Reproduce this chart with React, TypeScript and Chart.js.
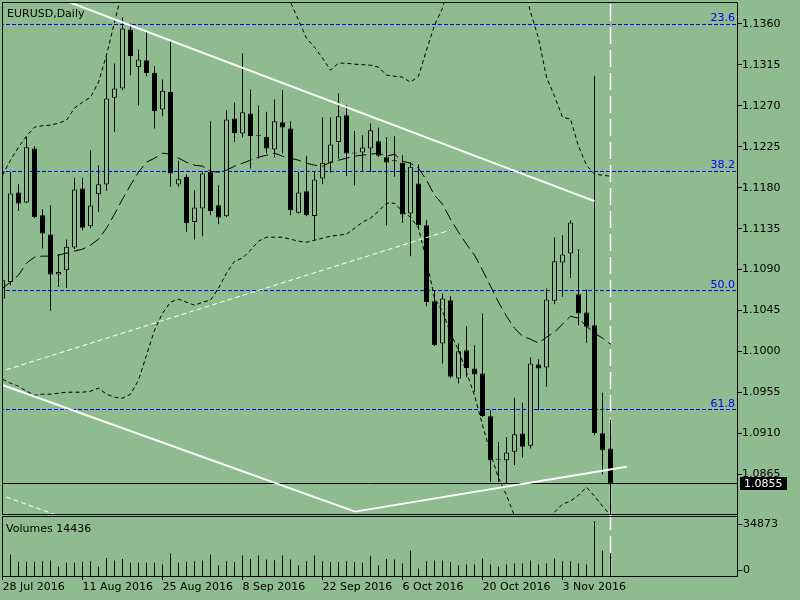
import React, { useEffect, useRef } from "react";
import { Chart, registerables } from "chart.js";

Chart.register(...registerables);

// ---------- data ----------
const symbolTitle = "EURUSD,Daily";

const dates = [
  "28 Jul 2016", "29 Jul 2016",
  "1 Aug 2016", "2 Aug 2016", "3 Aug 2016", "4 Aug 2016", "5 Aug 2016",
  "8 Aug 2016", "9 Aug 2016", "10 Aug 2016", "11 Aug 2016", "12 Aug 2016",
  "15 Aug 2016", "16 Aug 2016", "17 Aug 2016", "18 Aug 2016", "19 Aug 2016",
  "22 Aug 2016", "23 Aug 2016", "24 Aug 2016", "25 Aug 2016", "26 Aug 2016",
  "29 Aug 2016", "30 Aug 2016", "31 Aug 2016", "1 Sep 2016", "2 Sep 2016",
  "5 Sep 2016", "6 Sep 2016", "7 Sep 2016", "8 Sep 2016", "9 Sep 2016",
  "12 Sep 2016", "13 Sep 2016", "14 Sep 2016", "15 Sep 2016", "16 Sep 2016",
  "19 Sep 2016", "20 Sep 2016", "21 Sep 2016", "22 Sep 2016", "23 Sep 2016",
  "26 Sep 2016", "27 Sep 2016", "28 Sep 2016", "29 Sep 2016", "30 Sep 2016",
  "3 Oct 2016", "4 Oct 2016", "5 Oct 2016", "6 Oct 2016", "7 Oct 2016",
  "10 Oct 2016", "11 Oct 2016", "12 Oct 2016", "13 Oct 2016", "14 Oct 2016",
  "17 Oct 2016", "18 Oct 2016", "19 Oct 2016", "20 Oct 2016", "21 Oct 2016",
  "24 Oct 2016", "25 Oct 2016", "26 Oct 2016", "27 Oct 2016", "28 Oct 2016",
  "31 Oct 2016", "1 Nov 2016", "2 Nov 2016", "3 Nov 2016", "4 Nov 2016",
  "7 Nov 2016", "8 Nov 2016", "9 Nov 2016", "10 Nov 2016", "11 Nov 2016",
];

const opens = [
  1.10583, 1.10765, 1.11747, 1.11638, 1.12231, 1.11498, 1.11286, 1.10847, 1.10894, 1.11143,
  1.11791, 1.11377, 1.11729, 1.11836, 1.12787, 1.1289, 1.13538, 1.13127, 1.13201, 1.13061,
  1.12659, 1.12853, 1.11836, 1.11919, 1.11424, 1.11572, 1.11974, 1.11608, 1.11487, 1.1256,
  1.12396, 1.12615, 1.1238, 1.12358, 1.1222, 1.1252, 1.12451, 1.11525, 1.11762, 1.1149,
  1.11901, 1.12073, 1.12303, 1.12597, 1.12187, 1.12187, 1.12231, 1.12311, 1.12135, 1.12102,
  1.12073, 1.11517, 1.11846, 1.11388, 1.10553, 1.10089, 1.10564, 1.09704, 1.10015, 1.09814,
  1.09759, 1.0929, 1.08821, 1.08806, 1.08898, 1.091, 1.08964, 1.09858, 1.09825, 1.10557,
  1.10978, 1.11077, 1.1063, 1.10429, 1.1029, 1.09103, 1.08935,
];
const highs = [
  1.10839, 1.11974, 1.11839, 1.12358, 1.12256, 1.11564, 1.11608, 1.1107, 1.11231, 1.11908,
  1.11908, 1.12212, 1.12047, 1.13237, 1.13165, 1.1367, 1.13604, 1.13318, 1.13512, 1.13135,
  1.12989, 1.13421, 1.12095, 1.11948, 1.11773, 1.11974, 1.12531, 1.11828, 1.12652, 1.12736,
  1.13274, 1.12879, 1.12703, 1.12633, 1.12769, 1.12871, 1.12531, 1.11974, 1.12146, 1.11974,
  1.12571, 1.12571, 1.12835, 1.12707, 1.12424, 1.12377, 1.12505, 1.12462, 1.12358, 1.12366,
  1.12157, 1.1208, 1.12055, 1.11443, 1.10674, 1.10638, 1.10608, 1.10089, 1.10279, 1.1007,
  1.10418, 1.09356, 1.09007, 1.09062, 1.09491, 1.09436, 1.09935, 1.09916, 1.10693, 1.11253,
  1.11278, 1.11443, 1.11125, 1.10682, 1.13025, 1.09546, 1.09254,
];
const lows = [
  1.10542, 1.10729, 1.11545, 1.1163, 1.11465, 1.11132, 1.10447, 1.1071, 1.10699, 1.11125,
  1.11333, 1.11355, 1.11534, 1.11765, 1.12413, 1.12871, 1.13036, 1.12707, 1.13025, 1.1245,
  1.12586, 1.11809, 1.11809, 1.11315, 1.11231, 1.11267, 1.11498, 1.11399, 1.11479, 1.12303,
  1.12352, 1.12011, 1.12121, 1.12176, 1.12132, 1.12176, 1.11498, 1.11517, 1.11487, 1.11223,
  1.11839, 1.11963, 1.12121, 1.11927, 1.11828, 1.11985, 1.11974, 1.12139, 1.11388, 1.11919,
  1.11413, 1.11048, 1.11341, 1.10498, 1.10062, 1.09869, 1.09707, 1.09649, 1.09715, 1.09557,
  1.09282, 1.08568, 1.08568, 1.0855, 1.08752, 1.08836, 1.08935, 1.09356, 1.09612, 1.1052,
  1.10601, 1.10809, 1.1029, 1.10097, 1.09081, 1.08653, 1.08191,
];
const closes = [
  1.10784, 1.11736, 1.11627, 1.12245, 1.11479, 1.11297, 1.10847, 1.10875, 1.1115, 1.1178,
  1.11359, 1.11605, 1.11839, 1.1278, 1.1289, 1.13549, 1.13248, 1.13209, 1.13061, 1.12641,
  1.12864, 1.11956, 1.11894, 1.11413, 1.11583, 1.11956, 1.11545, 1.11473, 1.12549, 1.12402,
  1.1263, 1.12369, 1.1237, 1.12231, 1.12531, 1.12462, 1.11553, 1.11747, 1.11498, 1.1189,
  1.12073, 1.12275, 1.12586, 1.12176, 1.12176, 1.12242, 1.12432, 1.1215, 1.12077, 1.12091,
  1.11506, 1.12029, 1.11388, 1.10545, 1.1007, 1.10583, 1.09722, 1.10004, 1.0982, 1.09748,
  1.09293, 1.08806, 1.0881, 1.08891, 1.09092, 1.08953, 1.09869, 1.09814, 1.10572, 1.10993,
  1.11066, 1.11418, 1.10418, 1.10271, 1.09106, 1.08916, 1.0855,
];
const volumes = [
  5200, 13560, 8970, 8970, 8970, 9390, 9800, 5840, 8350, 8350,
  8970, 9390, 5840, 11480, 9800, 10850, 8350, 8350, 8350, 8350,
  7300, 14190, 8350, 8970, 9390, 9800, 13560, 6680, 9390, 8770,
  12940, 10850, 12940, 10430, 10020, 12940, 10430, 6680, 9390, 12940,
  9390, 8770, 8770, 9390, 8770, 8350, 12520, 6680, 10850, 10430,
  7930, 16070, 4800, 9390, 9800, 9800, 8770, 6680, 7300, 7300,
  11060, 7300, 5840, 7300, 7930, 7930, 9800, 7300, 7930, 11060,
  9390, 9390, 7930, 7300, 34873, 16070, 14436,
];

// Bollinger Bands (20, 2) as drawn
const bbUpper = [
  1.11937, 1.12102, 1.12245, 1.12366, 1.12465, 1.12481, 1.12487, 1.12509, 1.12542, 1.12674,
  1.12739, 1.12794, 1.12959, 1.13256, 1.13618, 1.1397, 1.14135, 1.14245, 1.14299, 1.14321,
  1.14343, 1.14354, 1.14354, 1.14354, 1.14343, 1.14321, 1.14299, 1.14277, 1.14255, 1.14234,
  1.1419, 1.14146, 1.14102, 1.14047, 1.13992, 1.13926, 1.13838, 1.1364, 1.13443, 1.13344,
  1.13223, 1.13091, 1.13168, 1.13168, 1.13157, 1.13151, 1.13146, 1.13124, 1.13036, 1.13025,
  1.13014, 1.12959, 1.13025, 1.13311, 1.13585, 1.13772, 1.1408, 1.14299, 1.14464, 1.14574,
  1.14629, 1.14629, 1.14574, 1.14464, 1.14299, 1.1408, 1.13728, 1.13443, 1.13014, 1.12805,
  1.12575, 1.12553, 1.12256, 1.12047, 1.11948, 1.11937, 1.11926,
];
const bbMiddle = [
  1.10696, 1.10762, 1.10839, 1.10971, 1.11037, 1.11048, 1.11048, 1.11059, 1.11081, 1.11103,
  1.11125, 1.11168, 1.11234, 1.11355, 1.11509, 1.11674, 1.11828, 1.1197, 1.1208, 1.12124,
  1.12179, 1.12168, 1.12124, 1.1208, 1.12047, 1.12036, 1.11981, 1.1197, 1.11992, 1.12036,
  1.12069, 1.12102, 1.12135, 1.12157, 1.12179, 1.12146, 1.12124, 1.12102, 1.12069, 1.12047,
  1.12036, 1.1208, 1.12102, 1.12124, 1.12146, 1.12157, 1.12168, 1.12179, 1.12146, 1.12168,
  1.12091, 1.12069, 1.12014, 1.11883, 1.11718, 1.11619, 1.11454, 1.11311, 1.11179, 1.11059,
  1.10894, 1.10718, 1.10542, 1.10388, 1.10256, 1.10169, 1.10136, 1.10092, 1.10158, 1.10213,
  1.103, 1.10388, 1.10366, 1.10278, 1.10202, 1.10147, 1.10081,
];
const bbLower = [
  1.09696, 1.09652, 1.09619, 1.09564, 1.0952, 1.09531, 1.09531, 1.09542, 1.09553, 1.09553,
  1.09553, 1.09564, 1.09597, 1.09531, 1.09498, 1.09487, 1.09531, 1.09685, 1.0996, 1.10235,
  1.10421, 1.10542, 1.10575, 1.10542, 1.10509, 1.10542, 1.10564, 1.10696, 1.10861, 1.10992,
  1.11026, 1.11114, 1.11212, 1.11256, 1.11256, 1.11256, 1.11234, 1.11212, 1.11201, 1.11223,
  1.11245, 1.11267, 1.11278, 1.11289, 1.11355, 1.11421, 1.11465, 1.11542, 1.1163, 1.1163,
  1.11542, 1.11476, 1.11355, 1.11004, 1.10586, 1.10443, 1.10202, 1.10015, 1.09773, 1.0952,
  1.09191, 1.08883, 1.08609, 1.08422, 1.08191, 1.08038, 1.0795, 1.07983, 1.08103, 1.08235,
  1.08323, 1.08356, 1.08422, 1.0851, 1.08411, 1.08301, 1.08202,
];

// drawn objects: [bar index, price]
const trendUpper = [[5, 1.13949], [74, 1.11652]];
const trendLowerA = [[-0.5, 1.09647], [44.06, 1.08241]];
const trendLowerB = [[44.06, 1.08241], [78.03, 1.08733]];
const trendDashA = [[-0.5, 1.09773], [55.94, 1.11333]];
const trendDashB = [[-0.5, 1.08431], [9.69, 1.08111]];

const fibLabels = ["23.6", "38.2", "50.0", "61.8"];
const fibPrices = [1.13593, 1.11978, 1.1067, 1.09363];

const priceTicks = [1.0865, 1.091, 1.0955, 1.1, 1.1045, 1.109, 1.1135, 1.118, 1.1225, 1.127, 1.1315, 1.136];
const xTickLabels = ["28 Jul 2016", "11 Aug 2016", "25 Aug 2016", "8 Sep 2016", "22 Sep 2016", "6 Oct 2016", "20 Oct 2016", "3 Nov 2016"];

// ---------- view settings ----------
const BG = "#8fbc8f";
const FONT_FAMILY = '"DejaVu Sans"';
const FONT = '11px "DejaVu Sans"';
const P_MAX = 1.13829;
const P_MIN = 1.08204;
const VOL_MAX = 38678;
const X_MIN = -0.0625;
const X_MAX = 91.8125;

const last = dates.length - 1;
const bidPrice = closes[last];
const volTop = Math.max(...volumes);
const idx = dates.map((_, i) => i);
const xTickIdx = xTickLabels.map((l) => dates.indexOf(l));

const toPts = (arr: number[][]) => arr.map(([x, y]) => ({ x, y }));

function lineDs(data: any[], color: string, width: number, dash: number[], order: number, axis = "y") {
  return {
    type: "line",
    data,
    borderColor: color,
    borderWidth: width,
    borderDash: dash,
    borderCapStyle: "butt",
    pointRadius: 0,
    pointHoverRadius: 0,
    pointHitRadius: 0,
    fill: false,
    tension: 0,
    order,
    xAxisID: "x",
    yAxisID: axis,
  };
}

const mt4Plugin = {
  id: "mt4look",
  beforeDraw(chart: any) {
    const { ctx, width, height } = chart;
    ctx.save();
    ctx.fillStyle = BG;
    ctx.fillRect(0, 0, width, height);
    ctx.restore();
  },
  afterDraw(chart: any) {
    const { ctx, chartArea } = chart;
    const ys = chart.scales.y;
    const vs = chart.scales.yv;
    const L = Math.round(chartArea.left) + 0.5;
    const R = Math.round(chartArea.right) + 0.5;
    const top = Math.round(ys.top) - 0.5;
    const pBot = Math.round(ys.bottom) - 0.5;
    const vTop = Math.round(vs.top) + 1.5;
    const vBot = Math.round(vs.bottom) + 0.5;
    ctx.save();
    ctx.setLineDash([]);
    ctx.strokeStyle = "#000";
    ctx.lineWidth = 1;
    ctx.beginPath();
    ctx.moveTo(L, top); ctx.lineTo(R, top);
    ctx.moveTo(L, top); ctx.lineTo(L, pBot);
    ctx.moveTo(L, pBot); ctx.lineTo(R, pBot);
    ctx.moveTo(L, vTop); ctx.lineTo(R, vTop);
    ctx.moveTo(L, vTop); ctx.lineTo(L, vBot);
    // volume axis tick marks
    const v1 = vs.getPixelForValue(volTop) + 2.5;
    const v0 = vs.getPixelForValue(0) - 6.5;
    ctx.moveTo(R, Math.round(v1) + 0.5); ctx.lineTo(R + 5, Math.round(v1) + 0.5);
    ctx.moveTo(R, Math.round(v0) + 0.5); ctx.lineTo(R + 5, Math.round(v0) + 0.5);
    ctx.stroke();

    ctx.font = FONT;
    ctx.fillStyle = "#000";
    ctx.textAlign = "left";
    ctx.textBaseline = "alphabetic";
    ctx.fillText(symbolTitle, 7, ys.top + 13.5);
    ctx.fillText("Volumes " + volumes[last], 6, vs.top + 17);

    ctx.textBaseline = "middle";
    ctx.fillText(String(volTop), R + 5.5, v1 + 1);
    ctx.fillText("0", R + 5.5, v0 + 1);

    ctx.fillStyle = "#0000ff";
    ctx.textAlign = "right";
    ctx.textBaseline = "alphabetic";
    fibPrices.forEach((p, k) => {
      ctx.fillText(fibLabels[k], R - 2.5, ys.getPixelForValue(p) - 3);
    });

    const py = ys.getPixelForValue(bidPrice);
    ctx.fillStyle = "#000";
    ctx.fillRect(R + 2.5, Math.round(py) - 7, 47, 13);
    ctx.fillStyle = "#fff";
    ctx.textAlign = "left";
    ctx.textBaseline = "middle";
    ctx.fillText(bidPrice.toFixed(4), R + 6.5, py + 0.5);
    ctx.restore();
  },
};

export default function App() {
  const ref = useRef<HTMLCanvasElement | null>(null);

  useEffect(() => {
    const canvas = ref.current;
    if (!canvas) return;
    Chart.defaults.font.family = FONT_FAMILY;
    Chart.defaults.font.size = 11;
    Chart.defaults.color = "#000";

    const datasets: any[] = [
      // vertical line at last bar (behind candles)
      lineDs(toPts([[last, P_MAX + 0.01], [last, P_MIN - 0.01]]), "#ffffff", 1.5, [17, 6], 40),
      lineDs(toPts([[last, 0], [last, VOL_MAX * 2]]), "#ffffff", 1.5, [17, 6], 40, "yv"),
      // fibonacci levels
      ...fibPrices.map((p) => lineDs(toPts([[X_MIN - 1, p], [X_MAX + 1, p]]), "#0000ff", 1, [4, 2], 35)),
      // bid line
      lineDs(toPts([[X_MIN - 1, bidPrice], [X_MAX + 1, bidPrice]]), "#000000", 1, [], 34),
      // candle wicks
      {
        type: "bar",
        data: idx.map((i) => ({ x: i, y: [lows[i], highs[i]] })),
        backgroundColor: "#000",
        borderWidth: 0,
        barThickness: 1,
        grouped: false,
        inflateAmount: 0,
        order: 30,
        xAxisID: "x",
        yAxisID: "y",
      },
      // candle bodies
      {
        type: "bar",
        data: idx.map((i) => ({ x: i, y: [opens[i], closes[i]] })),
        backgroundColor: idx.map((i) => (closes[i] >= opens[i] ? BG : "#000")),
        borderColor: "#000",
        borderWidth: 1,
        borderSkipped: false,
        barThickness: 5,
        grouped: false,
        inflateAmount: 0,
        order: 29,
        xAxisID: "x",
        yAxisID: "y",
      },
      // Bollinger bands
      lineDs(idx.map((i) => ({ x: i, y: bbUpper[i] })), "#000", 1, [4, 3], 10),
      lineDs(idx.map((i) => ({ x: i, y: bbMiddle[i] })), "#000", 1, [12, 5], 10),
      lineDs(idx.map((i) => ({ x: i, y: bbLower[i] })), "#000", 1, [4, 3], 10),
      // trend lines
      lineDs(toPts(trendDashA), "#ffffff", 1, [5, 3], 2),
      lineDs(toPts(trendDashB), "#ffffff", 1, [5, 3], 2),
      lineDs(toPts(trendUpper), "#ffffff", 2, [], 1),
      lineDs(toPts(trendLowerA), "#ffffff", 2, [], 1),
      lineDs(toPts(trendLowerB), "#ffffff", 2, [], 1),
      // volumes
      {
        type: "bar",
        data: idx.map((i) => ({ x: i, y: volumes[i] })),
        backgroundColor: "#000",
        borderWidth: 0,
        barThickness: 1,
        grouped: false,
        inflateAmount: 0,
        order: 5,
        xAxisID: "x",
        yAxisID: "yv",
      },
    ];

    const chart = new Chart(canvas, {
      type: "bar",
      data: { datasets },
      plugins: [mt4Plugin],
      options: {
        animation: false,
        responsive: false,
        events: [],
        layout: { padding: { left: 2, top: 3, right: 0, bottom: 0 } },
        plugins: {
          legend: { display: false },
          tooltip: { enabled: false },
          title: { display: false },
        },
        scales: {
          x: {
            type: "linear",
            position: "bottom",
            offset: false,
            min: X_MIN,
            max: X_MAX,
            afterBuildTicks: (s: any) => {
              s.ticks = xTickIdx.map((v) => ({ value: v }));
            },
            afterFit: (s: any) => {
              s.height = 24;
              s.paddingLeft = 0;
              s.paddingRight = 0;
            },
            ticks: {
              autoSkip: false,
              maxRotation: 0,
              minRotation: 0,
              align: "start",
              padding: 1,
              color: "#000",
              font: { family: FONT_FAMILY, size: 11 },
              callback: (v: any) => dates[v] ?? "",
            },
            grid: { offset: false, drawOnChartArea: false, drawTicks: true, tickLength: 4, color: "#000" },
            border: { display: true, color: "#000" },
          },
          y: {
            type: "linear",
            position: "right",
            stack: "panes",
            stackWeight: 512,
            weight: 0,
            min: P_MIN,
            max: P_MAX,
            afterBuildTicks: (s: any) => {
              s.ticks = priceTicks.map((v) => ({ value: v }));
            },
            afterFit: (s: any) => {
              s.width = 63;
              s.paddingTop = 0;
              s.paddingBottom = 0;
            },
            ticks: {
              padding: 0,
              color: "#000",
              font: { family: FONT_FAMILY, size: 11 },
              callback: (v: any) => Number(v).toFixed(4),
            },
            grid: { drawOnChartArea: false, drawTicks: true, tickLength: 5, color: "#000" },
            border: { display: true, color: "#000" },
          },
          yv: {
            type: "linear",
            position: "right",
            stack: "panes",
            stackWeight: 61,
            weight: 1,
            min: 0,
            max: VOL_MAX,
            afterFit: (s: any) => {
              s.width = 63;
              s.paddingTop = 0;
              s.paddingBottom = 0;
            },
            ticks: { display: false },
            grid: { display: false },
            border: { display: true, color: "#000" },
          },
        },
      } as any,
    } as any);

    return () => chart.destroy();
  }, []);

  return (
    <div style={{ position: "fixed", left: 0, top: 0, width: 800, height: 600, background: BG }}>
      <canvas ref={ref} width={800} height={600} style={{ display: "block", width: 800, height: 600 }} />
    </div>
  );
}
